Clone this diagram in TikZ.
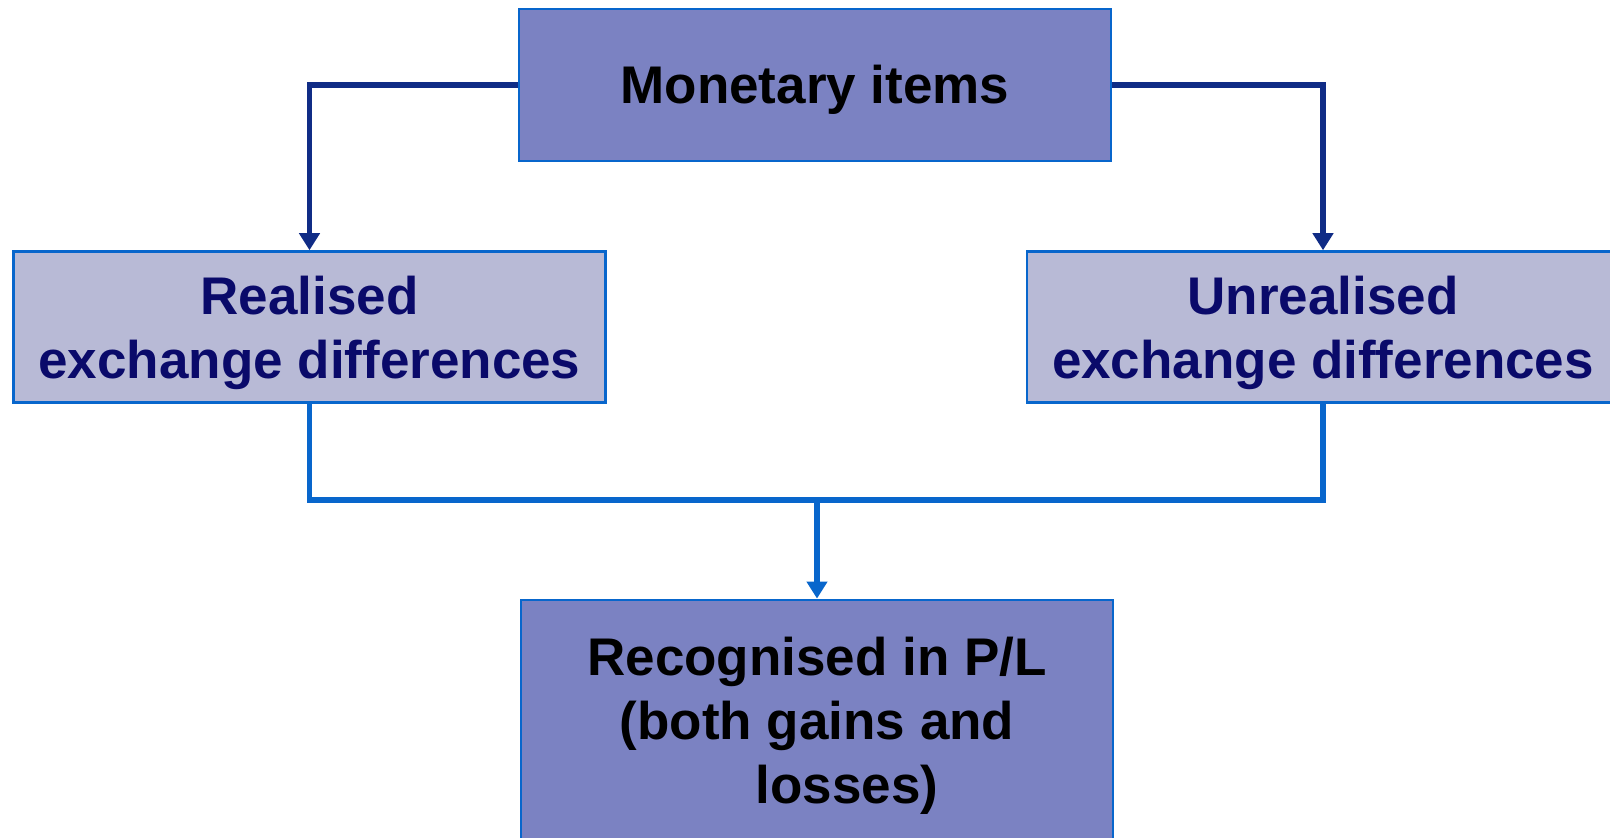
\documentclass[tikz,border=0pt]{standalone}
\usepackage{fontspec}
\setmainfont{Liberation Sans}
\usetikzlibrary{arrows.meta}
\definecolor{darkfill}{HTML}{7B82C2}
\definecolor{lightfill}{HTML}{B8BAD6}
\definecolor{edgeblue}{HTML}{0866CC}
\definecolor{navyline}{HTML}{102C86}
\definecolor{navytext}{HTML}{0A0A6A}
% empty leading line, used to set the vertical position of a box's text
\newcommand\leadgap[1]{\rule{0pt}{0pt}\\[#1]}
\begin{document}
\begin{tikzpicture}[x=1pt,y=1pt,
  box/.style={draw=edgeblue, line width=2.5pt, minimum width=592pt,
    align=center, inner sep=0pt,
    font=\fontsize{53}{64}\selectfont\bfseries},
  darkbox/.style={box, fill=darkfill, text=black},
  lightbox/.style={box, fill=lightfill, text=navytext},
  topflow/.style={draw=navyline, line width=5.5pt,
    -{Triangle[width=20pt,length=17pt]}},
  lowflow/.style={draw=edgeblue, line width=5.5pt},
  lowarrow/.style={lowflow, -{Triangle[width=20pt,length=17pt]}}]
\clip (0,0) rectangle (1610,838);
\fill[white] (0,0) rectangle (1610,838);

\node[darkbox, minimum height=152pt] (mon) at (815,753)
  {\leadgap{-16pt}Monetary items};
\node[lightbox, minimum height=151pt] (real) at (309.5,511)
  {\leadgap{-14pt}Realised\\exchange differences};
\node[lightbox, minimum height=151pt] (unreal) at (1323,511)
  {\leadgap{-14pt}Unrealised\\exchange differences};
\node[darkbox, minimum height=290pt, anchor=north] (pl) at (817,239.4)
  {\leadgap{-73pt}Recognised in P/L\\(both gains and\\\hspace*{60pt}losses)};

\coordinate (join) at (817,338);

\draw[topflow] (mon.west) -| (real.north);
\draw[topflow] (mon.east) -| (unreal.north);
\draw[lowflow] (real.south) |- (join) -| (unreal.south);
\draw[lowarrow] (join) -- (pl.north);
\end{tikzpicture}
\end{document}
